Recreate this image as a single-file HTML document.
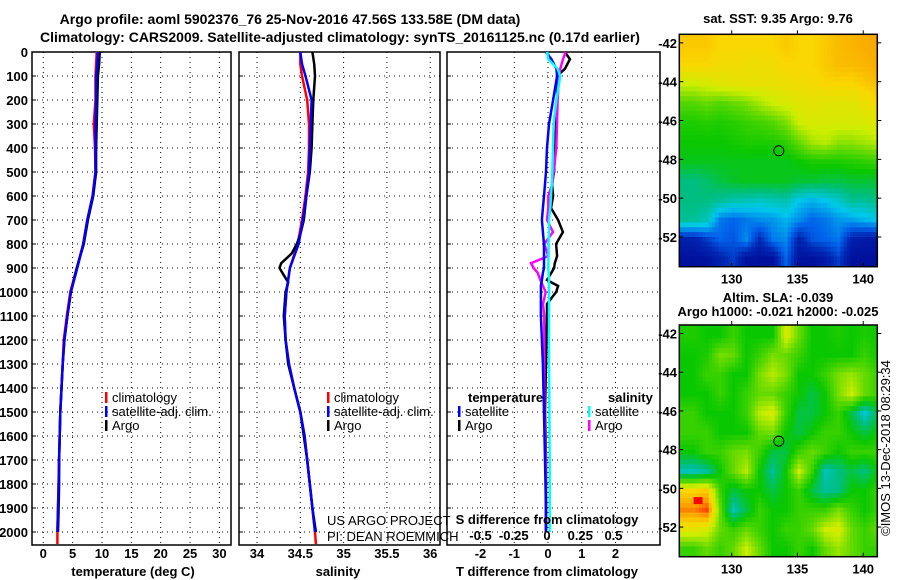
<!DOCTYPE html>
<html><head><meta charset="utf-8">
<style>
html,body{margin:0;padding:0;background:#fff;}
svg{display:block;font-family:"Liberation Sans",sans-serif;}
.b{font-weight:bold;font-size:13px;}
.t{font-weight:bold;font-size:14px;}
.thin{font-size:13px;font-weight:normal;}
</style></head><body>
<svg id="chart" width="900" height="580" viewBox="0 0 900 580">
<text x="290" y="24" text-anchor="middle" class="t">Argo profile: aoml 5902376_76 25-Nov-2016 47.56S 133.58E (DM data)</text>
<text x="340" y="42" text-anchor="middle" class="t">Climatology: CARS2009. Satellite-adjusted climatology: synTS_20161125.nc (0.17d earlier)</text>
<g id="p1"></g>
<g id="p2"></g>
<g id="p3"></g>
<g id="m1"></g>
<g id="m2"></g>
<text x="133" y="576" text-anchor="middle" class="b">temperature (deg C)</text>
<text x="338" y="576" text-anchor="middle" class="b">salinity</text>
<text x="547" y="576" text-anchor="middle" class="b">T difference from climatology</text>
<text x="547" y="524" text-anchor="middle" class="b">S difference from climatology</text>
<text x="327" y="525" class="thin">US ARGO PROJECT</text>
<text x="327" y="541" class="thin">PI: DEAN ROEMMICH</text>
<text x="778" y="23" text-anchor="middle" class="b">sat. SST: 9.35 Argo: 9.76</text>
<text x="778" y="302" text-anchor="middle" class="b">Altim. SLA: -0.039</text>
<text x="778" y="316" text-anchor="middle" class="b">Argo h1000: -0.021 h2000: -0.025</text>
<text x="0" y="0" transform="translate(890,448) rotate(-90)" text-anchor="middle" class="thin">©IMOS 13-Dec-2018 08:29:34</text>
</svg>
<script>
// ---------- data ----------
const depths = [0,50,100,200,300,400,500,600,700,800,900,1000,1100,1200,1300,1400,1500,1600,1700,1800,1900,2000];
const depthsExt = [0,50,100,200,300,400,500,600,700,800,900,1000,1100,1200,1300,1400,1500,1600,1700,1800,1900,2000,2050];
const argoT = [9.6,9.5,9.3,9.2,9.1,9.0,9.0,8.5,7.6,6.9,5.7,4.7,4.1,3.6,3.3,3.1,2.9,2.8,2.7,2.7,2.6,2.5];
const satT = [9.3,9.2,9.0,9.0,8.9,8.9,8.9,8.4,7.5,6.8,5.8,4.7,4.1,3.6,3.3,3.1,2.9,2.8,2.7,2.6,2.5,2.4];
const climT = [9.1,9.0,8.9,8.9,8.6,8.8,8.9,8.4,7.5,6.8,5.7,4.6,4.0,3.5,3.3,3.1,2.9,2.8,2.7,2.6,2.5,2.4,2.4];
const argoSdep = [0,50,100,200,300,400,500,600,700,760,800,840,880,900,930,960,1000,1100,1200,1300,1400,1500,1600,1700,1800,1900,2000];
const argoS = [34.64,34.66,34.67,34.65,34.64,34.63,34.61,34.57,34.54,34.5,34.46,34.4,34.28,34.26,34.31,34.36,34.33,34.31,34.33,34.36,34.43,34.5,34.54,34.58,34.61,34.64,34.68];
const satS = [34.5,34.52,34.56,34.63,34.62,34.61,34.6,34.57,34.53,34.48,34.38,34.34,34.32,34.33,34.37,34.43,34.5,34.55,34.58,34.61,34.64,34.67];
const climS = [34.5,34.5,34.52,34.58,34.6,34.6,34.59,34.56,34.52,34.47,34.38,34.34,34.32,34.33,34.37,34.43,34.5,34.55,34.58,34.61,34.64,34.67,34.68];
const diffDep = [0,30,70,100,200,300,400,500,550,600,650,700,750,800,850,880,900,920,950,975,1000,1050,1100,1300,1500,1700,1900,2000];
const argoTdiff = [0.5,0.65,0.5,0.27,0.27,0.24,0.21,0.18,0.12,0.15,0.09,0.3,0.44,0.24,0.27,0.2,0.18,0.1,-0.03,0.3,0.24,-0.03,-0.03,-0.06,-0.09,-0.06,-0.06,-0.06];
const satTdiff = [-0.06,0.1,0.25,0.27,0.15,0.03,-0.03,-0.06,-0.09,-0.12,-0.15,-0.18,-0.15,-0.12,-0.12,-0.12,-0.12,-0.15,-0.18,-0.21,-0.21,-0.21,-0.21,-0.15,-0.12,-0.09,-0.06,-0.06];
const argoSdiff = [0.14,0.12,0.1,0.09,0.08,0.075,0.07,0.05,0.04,0.01,0.01,0,0.045,-0.02,0.01,-0.12,-0.1,-0.07,-0.05,-0.03,-0.01,-0.03,-0.02,-0.02,-0.02,-0.01,-0.01,-0.01];
const satSdiff = [0,0.01,0.08,0.1,0.07,0.05,0.045,0.04,0.035,0.03,0.025,0.015,0.015,0.012,0.012,0.01,0.01,0.012,0.015,0.015,0.015,0.015,0.015,0.015,0.018,0.02,0.02,0.02];
const tTicks = [0,5,10,15,20,25,30];
const sTicks = [34,34.5,35,35.5,36];
const tdTicks = [-2,-1,0,1,2];
const sdTicks = [-0.5,-0.25,0,0.25,0.5];
const depthTicks = [0,100,200,300,400,500,600,700,800,900,1000,1100,1200,1300,1400,1500,1600,1700,1800,1900,2000];
const latTicks = [-42,-44,-46,-48,-50,-52];
const lonTicks = [130,135,140];
const sstGrid = [
[.82,.82,.8,.8,.8,.8,.8,.82,.8,.8,.82,.84,.85,.86,.87],
[.8,.8,.78,.78,.77,.77,.78,.8,.8,.8,.82,.84,.84,.85,.86],
[.7,.72,.74,.75,.76,.76,.76,.77,.78,.78,.8,.8,.8,.82,.84],
[.58,.6,.58,.6,.62,.66,.7,.72,.74,.75,.74,.74,.74,.76,.8],
[.52,.53,.52,.53,.55,.56,.58,.62,.7,.72,.72,.72,.72,.72,.74],
[.5,.5,.5,.51,.52,.52,.52,.54,.6,.66,.68,.64,.64,.66,.68],
[.48,.48,.48,.48,.48,.48,.48,.48,.5,.52,.52,.52,.53,.54,.55],
[.4,.42,.45,.47,.48,.48,.48,.48,.46,.46,.45,.45,.46,.46,.46],
[.4,.4,.38,.36,.35,.34,.35,.36,.3,.28,.3,.33,.38,.38,.4],
[.38,.35,.22,.2,.22,.24,.25,.28,.24,.2,.22,.25,.26,.28,.3],
[.1,.15,.2,.18,.24,.12,.22,.24,.1,.18,.2,.22,.1,.08,.08],
[.05,.06,.1,.15,.06,.05,.05,.2,.06,.05,.08,.15,.05,.05,.05]];
const slaGrid = [
[.52,.5,.5,.55,.5,.5,.5,.72,.6,.5,.5,.52,.5,.52,.5],
[.5,.52,.62,.6,.5,.55,.62,.6,.55,.5,.5,.5,.5,.55,.5],
[.5,.55,.55,.5,.5,.62,.68,.62,.5,.5,.55,.62,.65,.6,.55],
[.5,.5,.55,.5,.55,.6,.6,.55,.5,.45,.5,.62,.7,.6,.55],
[.55,.5,.5,.5,.55,.68,.72,.55,.45,.45,.5,.55,.45,.32,.45],
[.55,.55,.5,.5,.5,.6,.62,.5,.45,.5,.55,.55,.5,.45,.5],
[.5,.55,.55,.6,.62,.55,.45,.45,.55,.6,.55,.5,.55,.55,.55],
[.35,.38,.5,.6,.68,.5,.38,.5,.7,.55,.35,.4,.45,.4,.5],
[.8,.82,.55,.45,.5,.5,.45,.5,.55,.45,.38,.4,.5,.5,.55],
[.9,.95,.6,.35,.45,.55,.5,.5,.55,.55,.55,.62,.55,.5,.55],
[.75,.72,.6,.55,.6,.55,.5,.55,.55,.6,.7,.72,.6,.55,.6],
[.55,.6,.55,.6,.7,.6,.5,.5,.55,.5,.6,.65,.6,.55,.55]];
const floatLon = 133.58, floatLat = -47.56;

// ---------- helpers ----------
const NS = 'http://www.w3.org/2000/svg';
function el(tag, attrs, parent){const e=document.createElementNS(NS,tag);for(const k in attrs)e.setAttribute(k,attrs[k]);parent.appendChild(e);return e;}
const yD = d => 52 + d*0.24;
const Y0=52, Y1=545;
const xT = v => 43.3 + v*5.87;
const xS = v => 257 + (v-34)*86.6;
const xTD = v => 548 + v*33.75;
const xSD = v => 547 + v*133;

function frame(g, x0, x1, xs, ticks, labels, withDepthLabels){
  depthTicks.forEach(d=>{
    const l=el('line',{x1:x0,x2:x1,y1:yD(d),y2:yD(d),stroke:'#000','stroke-width':1,'stroke-dasharray':'1 4'},g);
    
    
    const tk=el('line',{x1:x0,x2:x0+4,y1:yD(d),y2:yD(d),stroke:'#000'},g);
    
    
    if(withDepthLabels){
      const t=el('text',{x:x0-4,y:yD(d)+5,'text-anchor':'end',class:'b'},g);
      t.textContent=d;
      
      
    }
  });
  ticks.forEach(v=>{
    const l=el('line',{x1:xs(v),x2:xs(v),y1:Y0,y2:Y1,stroke:'#000','stroke-width':1,'stroke-dasharray':'1 4'},g);
    
    
    if(labels){
      const t=el('text',{x:xs(v),y:558,'text-anchor':'middle',class:'b'},g);
      t.textContent=v;
      
      
    }
  });
  const r=el('rect',{x:x0,y:Y0,width:x1-x0,height:Y1-Y0,fill:'none',stroke:'#000','stroke-width':1.5},g);
  
  
}
function line(g, xs, vals, deps, color, name, w){
  const pts=vals.map((v,i)=>xs(v).toFixed(1)+','+yD(deps[i]).toFixed(1)).join(' ');
  const p=el('polyline',{points:pts,fill:'none',stroke:color,'stroke-width':w||2.5,'stroke-linejoin':'miter'},g);
  
  
}
function legend(g, x, y, color, text){
  const m=el('rect',{x:x,y:y-10,width:2.5,height:11,fill:color},g);
  
  
  const t=el('text',{x:x+7,y:y,class:'thin'},g);
  t.textContent=text;
  
  
}

// ---------- panel 1 ----------
const p1=document.getElementById('p1');
frame(p1,32,231,xT,tTicks,true,true);
line(p1,xT,climT,depthsExt,'#f00','climatology-temperature-line');
line(p1,xT,argoT,depths,'#000','argo-temperature-line');
line(p1,xT,satT,depths,'#00f','satellite-temperature-line');
legend(p1,105,402,'#f00','climatology');
legend(p1,105,416,'#00f','satellite-adj. clim.');
legend(p1,105,430,'#000','Argo');

// ---------- panel 2 ----------
const p2=document.getElementById('p2');
frame(p2,239,440,xS,sTicks,true,false);
line(p2,xS,climS,depthsExt,'#f00','climatology-salinity-line');
line(p2,xS,argoS,argoSdep,'#000','argo-salinity-line');
line(p2,xS,satS,depths,'#00f','satellite-salinity-line');
legend(p2,327,402,'#f00','climatology');
legend(p2,327,416,'#00f','satellite-adj. clim.');
legend(p2,327,430,'#000','Argo');

// ---------- panel 3 ----------
const p3=document.getElementById('p3');
frame(p3,447,660,xTD,tdTicks,true,false);
line(p3,xTD,argoTdiff,diffDep,'#000','argo-t-difference-line');
line(p3,xSD,argoSdiff,diffDep,'#f0f','argo-s-difference-line');
line(p3,xTD,satTdiff,diffDep,'#00f','satellite-t-difference-line');
line(p3,xSD,satSdiff,diffDep,'#0ff','satellite-s-difference-line');
sdTicks.forEach(v=>{
  const t=el('text',{x:xSD(v),y:540,'text-anchor':'middle',class:'b'},p3);
  t.textContent=String(v);
  
  
});
{const t=el('text',{x:468,y:402,class:'b'},p3);t.textContent='temperature';

}
{const t=el('text',{x:608,y:402,class:'b'},p3);t.textContent='salinity';

}
legend(p3,458,416,'#00f','satellite');
legend(p3,458,430,'#000','Argo');
legend(p3,588,416,'#0ff','satellite');
legend(p3,588,430,'#f0f','Argo');

// ---------- maps ----------
const stops=[[0,[0,0,140]],[0.12,[0,40,180]],[0.2,[0,100,235]],[0.3,[0,200,235]],[0.4,[0,190,130]],[0.5,[10,200,0]],[0.6,[100,218,0]],[0.7,[205,238,0]],[0.8,[250,215,0]],[0.88,[250,160,0]],[1,[255,0,0]]];
function cmap(v){v=Math.max(0,Math.min(1,v));for(let i=1;i<stops.length;i++){if(v<=stops[i][0]){const a=stops[i-1],b=stops[i],f=(v-a[0])/(b[0]-a[0]);const c=a[1].map((x,k)=>Math.round(x+(b[1][k]-x)*f));return 'rgb('+c.join(',')+')';}}return 'rgb(255,0,0)';}
function drawMap(gid, grid, top, bottom, name){
  const g=document.getElementById(gid);
  const L=679.3,R=877.3;
  const lonX = lon => 731.7 + (lon-130)*13.15;
  const latY = lat => top + (-41.56-lat)*((bottom-top)/(53.53-41.56));
  const cp=el('clipPath',{id:'clip'+gid},g);
  el('rect',{x:L,y:top,width:R-L,height:bottom-top},cp);
  const cells=el('g',{'clip-path':'url(#clip'+gid+')'},g);
  
  
  const step=0.25;
  for(let lat=-41.5;lat>-53.6;lat-=step){
    for(let lon=126;lon<141.2;lon+=step){
      const fr=Math.max(0,Math.min(11,(-42-lat))), fc=Math.max(0,Math.min(14,lon-127));
      const r0=Math.floor(fr),c0=Math.floor(fc),r1=Math.min(11,r0+1),c1=Math.min(14,c0+1),a=fr-r0,b=fc-c0;
      const v=grid[r0][c0]*(1-a)*(1-b)+grid[r0][c1]*(1-a)*b+grid[r1][c0]*a*(1-b)+grid[r1][c1]*a*b;
      const x=lonX(lon),y=latY(lat);
      const c=el('rect',{x:x.toFixed(1),y:y.toFixed(1),width:(step*13.15+0.6).toFixed(2),height:(step*19.3+0.6).toFixed(2),fill:cmap(v)},cells);
      
      
    }
  }
  const fr=el('rect',{x:L,y:top,width:R-L,height:bottom-top,fill:'none',stroke:'#000','stroke-width':1.5},g);
  
  
  latTicks.forEach(la=>{
    const y=latY(la);
    const t=el('text',{x:677,y:y+5,'text-anchor':'end',class:'b'},g);t.textContent=la;
    
    
    el('line',{x1:L,x2:L+4,y1:y,y2:y,stroke:'#000'},g);
    el('line',{x1:R,x2:R+4,y1:y,y2:y,stroke:'#000'},g);
  });
  lonTicks.forEach(lo=>{
    const x=lonX(lo);
    const t=el('text',{x:x,y:bottom+17,'text-anchor':'middle',class:'b'},g);t.textContent=lo;
    
    
    el('line',{x1:x,x2:x,y1:bottom,y2:bottom-4,stroke:'#000'},g);
    el('line',{x1:x,x2:x,y1:top,y2:top-4,stroke:'#000'},g);
  });
  const m=el('circle',{cx:lonX(floatLon),cy:latY(floatLat),r:5,fill:'none',stroke:'#000','stroke-width':1},g);
  
  
  return {lonX,latY,g};
}
drawMap('m1',sstGrid,34.3,266.7,'sst-map');
const mm=drawMap('m2',slaGrid,325,556.7,'sla-map');
{const r=el('rect',{x:mm.lonX(127.1),y:mm.latY(-50.45),width:9,height:7,fill:'#f00'},mm.g);

}
</script>
</body></html>
